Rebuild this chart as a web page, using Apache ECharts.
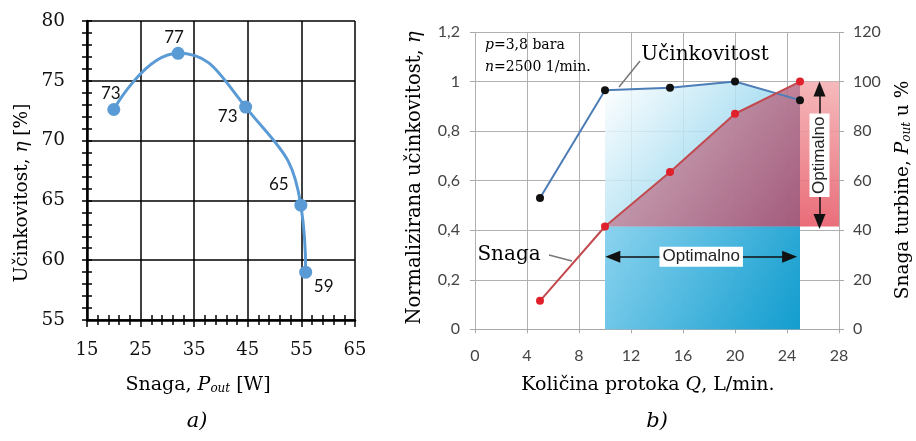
<!DOCTYPE html>
<html><head><meta charset="utf-8">
<script src="https://cdn.jsdelivr.net/npm/echarts@6/dist/echarts.min.js"></script>
<style>html,body{margin:0;padding:0;background:#fff}#c{width:916px;height:441px}</style>
</head><body><div id="c"></div>
<script>
// ---------- Panel a data ----------
const powerW = [20, 32, 44.6, 54.9, 55.8];
const efficiencyPct = [72.6, 77.3, 72.8, 64.6, 59];
const efficiencyLabels = ['73', '77', '73', '65', '59'];
const xTicksA = [15, 25, 35, 45, 55, 65];
const yTicksA = [55, 60, 65, 70, 75, 80];
// ---------- Panel b data ----------
const flowQ = [5, 10, 15, 20, 25];
const effNorm = [0.53, 0.965, 0.975, 1.0, 0.925];
const powerPct = [11.5, 41.5, 63.5, 87, 100];
const optimalFlow = [10, 25];
const optimalPower = [41.5, 100];
const xTicksB = [0, 4, 8, 12, 16, 20, 24, 28];
const yTicksB = [0, 0.2, 0.4, 0.6, 0.8, 1, 1.2];
const yTicksB2 = [0, 20, 40, 60, 80, 100, 120];

// ---------- styles (not data) ----------
const labelOffsetsA = [[-3, -16], [-4, -16], [-18, 9], [-22, -21], [18, 14]];
const SERIF = 'DejaVu Serif';
const SANS = 'Lato';

const chart = echarts.init(document.getElementById('c'), null, {renderer: 'canvas'});

function lg(x, y, x2, y2, c0, c1) {
  return new echarts.graphic.LinearGradient(x, y, x2, y2, [{offset: 0, color: c0}, {offset: 1, color: c1}]);
}
function fmtComma(v) {
  const r = Math.round(v * 10) / 10;
  return String(r).replace('.', ',');
}
const richSerif = (fs) => ({
  r: {fontFamily: SERIF, fontSize: fs, color: '#111'},
  i: {fontFamily: SERIF, fontSize: fs, fontStyle: 'italic', color: '#111'},
  s: {fontFamily: SERIF, fontSize: Math.round(fs * 0.65), fontStyle: 'italic', color: '#111', verticalAlign: 'bottom', lineHeight: Math.round(fs * 0.9)}
});

function txt(x, y, text, rich, rot, extra) {
  return {
    type: 'text', x: x, y: y, rotation: rot || 0, silent: true, z: 100,
    style: Object.assign({text: text, rich: rich, textAlign: 'center', textVerticalAlign: 'middle', align: 'center', verticalAlign: 'middle'}, extra || {})
  };
}

const optLabel = {show: true, position: 'middle', formatter: 'Optimalno', backgroundColor: '#fff',
  padding: [2, 3, 1, 3], fontFamily: 'Liberation Sans', fontSize: 17, color: '#222', distance: 0,
  verticalAlign: 'middle', align: 'center'};

const option = {
  animation: false,
  backgroundColor: '#fff',
  grid: [
    {left: 87, top: 21, width: 268, height: 299},
    {left: 475, top: 32, width: 364, height: 297.3}
  ],
  xAxis: [
    { // a main
      gridIndex: 0, type: 'value', min: xTicksA[0], max: xTicksA[xTicksA.length - 1], interval: 10,
      axisLine: {show: true, onZero: false, lineStyle: {color: '#000', width: 2.5}},
      axisTick: {show: true, inside: false, length: 7, lineStyle: {color: '#000', width: 1.5}},
      minorTick: {show: true, splitNumber: 5, length: 5, lineStyle: {color: '#000', width: 1.5}},
      splitLine: {show: true, lineStyle: {color: '#000', width: 1.5}},
      axisLabel: {fontFamily: SERIF, fontSize: 18, color: '#111', margin: 21}
    },
    { // a inner ticks
      gridIndex: 0, type: 'value', position: 'bottom', min: xTicksA[0], max: xTicksA[xTicksA.length - 1], interval: 10,
      axisLine: {show: false}, axisLabel: {show: false}, splitLine: {show: false},
      axisTick: {show: false, inside: true},
      minorTick: {show: true, splitNumber: 5, length: 5, lineStyle: {color: '#000', width: 1.5}}
    },
    { // b
      gridIndex: 1, type: 'value', min: xTicksB[0], max: xTicksB[xTicksB.length - 1], interval: 4,
      axisLine: {show: true, onZero: false, lineStyle: {color: '#a8a8a8', width: 1}},
      axisTick: {show: true, length: 4, lineStyle: {color: '#a8a8a8'}},
      splitLine: {show: true, lineStyle: {color: '#b0b0b0', width: 1}},
      axisLabel: {fontFamily: SANS, fontSize: 16, color: '#444', margin: 19}
    }
  ],
  yAxis: [
    { // a main
      gridIndex: 0, type: 'value', min: yTicksA[0], max: yTicksA[yTicksA.length - 1], interval: 5,
      axisLine: {show: true, onZero: false, lineStyle: {color: '#000', width: 2.5}},
      axisTick: {show: true, length: 5, lineStyle: {color: '#000', width: 1.5}},
      minorTick: {show: true, splitNumber: 5, length: 5, lineStyle: {color: '#000', width: 1.5}},
      splitLine: {show: true, lineStyle: {color: '#000', width: 1.5}},
      axisLabel: {fontFamily: SERIF, fontSize: 18.5, color: '#111', margin: 22}
    },
    { // a inner ticks
      gridIndex: 0, type: 'value', position: 'left', min: yTicksA[0], max: yTicksA[yTicksA.length - 1], interval: 5,
      axisLine: {show: false}, axisLabel: {show: false}, splitLine: {show: false},
      axisTick: {show: true, inside: true, length: 5, lineStyle: {color: '#000', width: 1.5}},
      minorTick: {show: true, splitNumber: 5, length: 5, lineStyle: {color: '#000', width: 1.5}}
    },
    { // b left
      gridIndex: 1, type: 'value', min: 0, max: 1.2, interval: 0.2,
      axisLine: {show: false},
      axisTick: {show: true, length: 5, lineStyle: {color: '#a8a8a8'}},
      splitLine: {show: true, lineStyle: {color: '#b0b0b0', width: 1}},
      axisLabel: {fontFamily: SANS, fontSize: 16, color: '#444', margin: 15, formatter: fmtComma}
    },
    { // b right
      gridIndex: 1, type: 'value', position: 'right', min: 0, max: 120, interval: 20,
      axisLine: {show: false},
      axisTick: {show: true, length: 5, lineStyle: {color: '#a8a8a8'}},
      splitLine: {show: false},
      axisLabel: {fontFamily: SANS, fontSize: 16, color: '#444', margin: 14}
    }
  ],
  series: [
    // ---------- panel a ----------
    {
      type: 'line', xAxisIndex: 0, yAxisIndex: 0, smooth: 0.5, z: 5,
      data: powerW.map((x, i) => ({
        value: [x, efficiencyPct[i]],
        label: {show: true, position: 'inside', offset: labelOffsetsA[i], formatter: efficiencyLabels[i]}
      })),
      symbol: 'circle', symbolSize: 13,
      lineStyle: {color: '#5B9BD5', width: 3},
      itemStyle: {color: '#5B9BD5'},
      label: {fontFamily: SANS, fontSize: 17, color: '#111'}
    },
    // ---------- panel b fills ----------
    {
      type: 'custom', xAxisIndex: 2, yAxisIndex: 2, z: 1, silent: true,
      data: [[0]],
      renderItem: function (params, api) {
        const q0 = optimalFlow[0], q1 = optimalFlow[1];
        const pts = [[q0, 0]];
        flowQ.forEach((q, i) => { if (q >= q0 && q <= q1) pts.push([q, effNorm[i]]); });
        pts.push([q1, 0]);
        return {
          type: 'polygon',
          shape: {points: pts.map(p => api.coord(p))},
          style: {fill: lg(0, 0, 1, 0.7, '#ffffff', '#48b8e2'), opacity: 0.85}
        };
      }
    },
    {
      type: 'custom', xAxisIndex: 2, yAxisIndex: 3, z: 2, silent: true,
      data: [[0]],
      renderItem: function (params, api) {
        const q0 = optimalFlow[0], q1 = optimalFlow[1];
        const pLo = optimalPower[0], pHi = optimalPower[1];
        const qMax = xTicksB[xTicksB.length - 1];
        const rect = [[q0, 0], [q0, pLo], [q1, pLo], [q1, 0]];
        const maroon = [[q0, pLo]];
        flowQ.forEach((q, i) => { if (q > q0 && q <= q1) maroon.push([q, powerPct[i]]); });
        maroon.push([q1, pLo]);
        const pink = [[q1, pHi], [qMax, pHi], [qMax, pLo], [q1, pLo]];
        const c = p => api.coord(p);
        return {
          type: 'group',
          children: [
            {type: 'polygon', shape: {points: rect.map(c)}, style: {fill: lg(0, 0, 1, 1, '#84d0ee', '#0898cb'), opacity: 0.88}},
            {type: 'polygon', shape: {points: maroon.map(c)}, style: {fill: lg(0, 0, 1, 1, '#cbaabb', '#ac4a6a'), opacity: 0.86}},
            {type: 'polygon', shape: {points: pink.map(c)}, style: {fill: lg(0.6, 0, 0, 1, '#f4b0b2', '#e65866'), opacity: 0.88}}
          ]
        };
      }
    },
    // ---------- panel b lines ----------
    {
      type: 'line', xAxisIndex: 2, yAxisIndex: 2, z: 6,
      data: flowQ.map((q, i) => [q, effNorm[i]]),
      symbol: 'circle', symbolSize: 8,
      lineStyle: {color: '#4d7db6', width: 2},
      itemStyle: {color: '#111'},
      markLine: {
        silent: true, animation: false,
        symbol: ['triangle', 'triangle'], symbolSize: [12, 15],
        lineStyle: {color: '#111', width: 1.5, type: 'solid'},
        label: optLabel,
        data: [[{coord: [10.6, 0.293]}, {coord: [24.2, 0.293]}]]
      }
    },
    {
      type: 'line', xAxisIndex: 2, yAxisIndex: 3, z: 6,
      data: flowQ.map((q, i) => [q, powerPct[i]]),
      symbol: 'circle', symbolSize: 8,
      lineStyle: {color: '#c24a4f', width: 2},
      itemStyle: {color: '#e0202a'},
      markLine: {
        silent: true, animation: false,
        symbol: ['triangle', 'triangle'], symbolSize: [12, 15],
        lineStyle: {color: '#111', width: 1.5, type: 'solid'},
        label: optLabel,
        data: [[{coord: [26.5, 43.5]}, {coord: [26.5, 97]}]]
      }
    }
  ],
  graphic: [
    // panel a texts
    txt(22, 193, '{r|Učinkovitost, }{i|η}{r| [%]}', richSerif(18.5), Math.PI / 2),
    txt(198, 385, '{r|Snaga, }{i|P}{s|out}{r| [W]}', richSerif(19)),
    txt(197, 422, '{i|a)}', richSerif(21)),
    // panel b texts
    txt(415, 178, '{r|Normalizirana učinkovitost, }{i|η}', richSerif(19.5), Math.PI / 2),
    txt(903, 190, '{r|Snaga turbine, }{i|P}{s|out}{r| u %}', richSerif(18.5), Math.PI / 2),
    txt(648, 385, '{r|Količina protoka }{i|Q}{r|, L/min.}', richSerif(19)),
    txt(657, 422, '{i|b)}', richSerif(21)),
    txt(485, 45, '{i|p}{r|=3,8 bara}', richSerif(14), 0, {textAlign: 'left', align: 'left'}),
    txt(485, 67, '{i|n}{r|=2500 1/min.}', richSerif(14), 0, {textAlign: 'left', align: 'left'}),
    txt(705, 55, '{r|Učinkovitost}', richSerif(20)),
    txt(509, 255, '{r|Snaga}', richSerif(20)),
    {type: 'line', silent: true, z: 100, shape: {x1: 640, y1: 61, x2: 619, y2: 87}, style: {stroke: '#777', lineWidth: 1.5}},
    {type: 'line', silent: true, z: 100, shape: {x1: 549, y1: 255, x2: 572, y2: 261}, style: {stroke: '#777', lineWidth: 1.5}}
  ]
};
chart.setOption(option);
</script>
</body></html>
